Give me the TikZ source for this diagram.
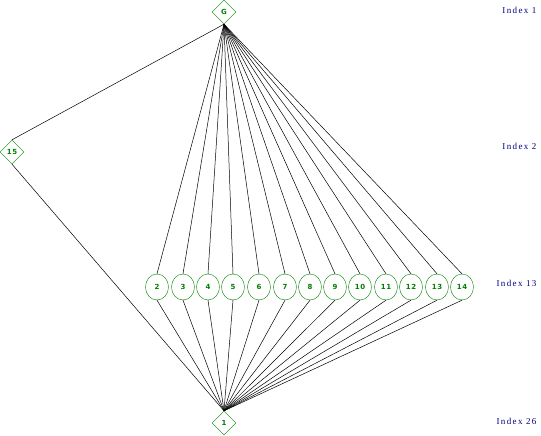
\documentclass[tikz,border=0pt]{standalone}
\usepackage{fontspec}
\setmainfont{Liberation Serif}
\setsansfont{DejaVu Sans}
\newfontfamily\idxfont[LetterSpace=15]{Liberation Serif}
\newfontfamily\lblfont[LetterSpace=10]{DejaVu Sans}
\usetikzlibrary{shapes.geometric}
\definecolor{nodegreen}{RGB}{0,128,0}
\definecolor{idxblue}{RGB}{0,0,128}
\tikzset{
  dnode/.style={diamond, draw=nodegreen, text=nodegreen, inner sep=0pt, minimum width=24pt, minimum height=24pt, font=\lblfont\bfseries\fontsize{7}{7}\selectfont},
  cnode/.style={ellipse, draw=nodegreen, text=nodegreen, inner sep=0pt, minimum width=23pt, minimum height=26pt, font=\lblfont\bfseries\fontsize{7}{7}\selectfont},
  idx/.style={text=idxblue, font=\idxfont\fontsize{9}{9}\selectfont, anchor=east},
  edge/.style={draw=black, line width=0.5pt}
}
\begin{document}
\begin{tikzpicture}[x=1pt,y=-1pt]
\useasboundingbox (0,0) rectangle (541,436);
\node[dnode] (G) at (224,12) {G};
\node[dnode] (n15) at (12,152) {15};
\node[dnode] (n1) at (224,423) {1};
\foreach \i/\x in {2/157,3/183,4/208,5/233,6/259,7/285,8/310,9/335,10/360,11/386,12/411,13/437,14/462} {
  \node[cnode] (c\i) at (\x,287) {\i};
  \draw[edge] (G.south) -- (c\i.north);
  \draw[edge] (c\i.south) -- (n1.north);
}
\draw[edge] (G.south) -- (n15.north);
\draw[edge] (n15.south) -- (n1.north);
\node[idx] (i1) at (540,10) {Index 1};
\node[idx] (i2) at (540,146) {Index 2};
\node[idx] (i13) at (540,283) {Index 13};
\node[idx] (i26) at (540,421) {Index 26};
\end{tikzpicture}
\end{document}
